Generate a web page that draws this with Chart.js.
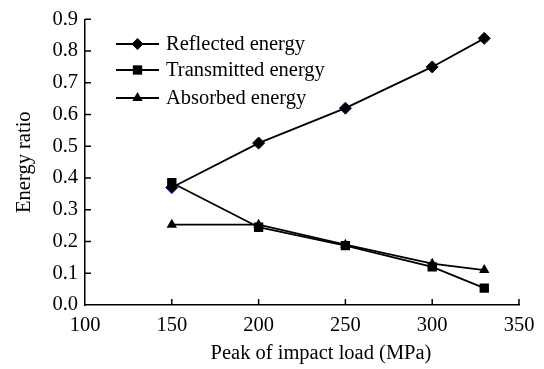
<!DOCTYPE html>
<html>
<head>
<meta charset="utf-8">
<script src="https://cdn.jsdelivr.net/npm/chart.js"></script>
<style>
  html, body { margin: 0; padding: 0; background: #fff; }
</style>
</head>
<body>
<canvas id="energyChart" width="544" height="369"></canvas>
<script>
const LOADS = [150, 200, 250, 300, 330];
const REFLECTED = [0.37, 0.51, 0.62, 0.75, 0.84];
const TRANSMITTED = [0.385, 0.245, 0.187, 0.12, 0.053];
const ABSORBED = [0.253, 0.253, 0.19, 0.13, 0.11];

const X_TICKS = [100, 150, 200, 250, 300, 350];
const Y_TICKS = [0.0, 0.1, 0.2, 0.3, 0.4, 0.5, 0.6, 0.7, 0.8, 0.9];

const SERIES_NAMES = ["Reflected energy", "Transmitted energy", "Absorbed energy"];
const X_TITLE = "Peak of impact load (MPa)";
const Y_TITLE = "Energy ratio";

const FONT = "'Liberation Serif', 'Times New Roman', serif";
const FONT_SIZE = 20.5;

function toPoints(values) {
  return values.map(function (v, i) {
    return { x: LOADS[i], y: v };
  });
}

const MARKERS = [
  { style: "rectRot", radius: 6 },
  { style: "rect", radius: 6.6 },
  { style: "triangle", radius: 6 },
];

// inward ticks, custom legend and the offset x title
const decorPlugin = {
  id: "decor",
  afterDraw: function (chart) {
    const ctx = chart.ctx;
    const area = chart.chartArea;
    const xs = chart.scales.x;
    const ys = chart.scales.y;

    ctx.save();
    ctx.strokeStyle = "#000";
    ctx.lineWidth = 1.5;
    ctx.beginPath();
    X_TICKS.forEach(function (t) {
      if (t === X_TICKS[0]) return;
      const px = xs.getPixelForValue(t);
      ctx.moveTo(px, area.bottom);
      ctx.lineTo(px, area.bottom - 6);
    });
    Y_TICKS.forEach(function (t) {
      if (t === Y_TICKS[0]) return;
      const py = ys.getPixelForValue(t);
      ctx.moveTo(area.left, py);
      ctx.lineTo(area.left + 6, py);
    });
    ctx.stroke();

    // legend
    const rows = [44, 70, 98];
    ctx.font = FONT_SIZE + "px " + FONT;
    ctx.textBaseline = "middle";
    ctx.textAlign = "left";
    SERIES_NAMES.forEach(function (name, i) {
      const y = rows[i];
      const lx = area.left + 31;
      ctx.strokeStyle = "#000";
      ctx.lineWidth = 1.8;
      ctx.beginPath();
      ctx.moveTo(lx, y);
      ctx.lineTo(lx + 43, y);
      ctx.stroke();
      ctx.fillStyle = "#000";
      Chart.helpers.drawPoint(ctx, {
        pointStyle: MARKERS[i].style,
        radius: MARKERS[i].radius,
        rotation: 0,
        borderWidth: 0,
      }, lx + 21.5, y);
      ctx.fillStyle = "#000";
      ctx.fillText(name, lx + 50, y + 1);
    });

    // x axis title
    ctx.textAlign = "center";
    ctx.textBaseline = "alphabetic";
    ctx.fillText(X_TITLE, 321, 359);
    ctx.restore();
  },
};

new Chart(document.getElementById("energyChart"), {
  type: "line",
  data: {
    datasets: [
      {
        label: SERIES_NAMES[0],
        data: toPoints(REFLECTED),
        borderColor: "#000",
        borderWidth: 1.8,
        pointStyle: MARKERS[0].style,
        pointRadius: MARKERS[0].radius,
        pointBackgroundColor: "#000",
        pointBorderColor: ["#000080", "#000", "#000080", "#000", "#000"],
        pointBorderWidth: 1,
        tension: 0,
        order: 2,
      },
      {
        label: SERIES_NAMES[1],
        data: toPoints(TRANSMITTED),
        borderColor: "#000",
        borderWidth: 1.8,
        pointStyle: MARKERS[1].style,
        pointRadius: MARKERS[1].radius,
        pointBackgroundColor: "#000",
        pointBorderColor: "#000",
        pointBorderWidth: 0,
        tension: 0,
        order: 0,
      },
      {
        label: SERIES_NAMES[2],
        data: toPoints(ABSORBED),
        borderColor: "#000",
        borderWidth: 1.8,
        pointStyle: MARKERS[2].style,
        pointRadius: MARKERS[2].radius,
        pointBackgroundColor: "#000",
        pointBorderColor: "#000",
        pointBorderWidth: 0,
        tension: 0,
        order: 1,
      },
    ],
  },
  options: {
    responsive: false,
    animation: false,
    layout: { padding: { left: 0, top: 14, right: 25, bottom: 0 } },
    plugins: {
      legend: { display: false },
      tooltip: { enabled: false },
    },
    scales: {
      x: {
        type: "linear",
        min: 100,
        max: 350,
        afterBuildTicks: function (scale) {
          scale.ticks = X_TICKS.map(function (v) { return { value: v }; });
        },
        afterFit: function (scale) { scale.height = 64; },
        ticks: {
          color: "#000",
          padding: 8,
          maxRotation: 0,
          font: { family: FONT, size: FONT_SIZE },
        },
        grid: { drawOnChartArea: false, drawTicks: false, color: "transparent" },
        border: { display: true, color: "#000", width: 1.5 },
      },
      y: {
        min: 0,
        max: 0.9,
        afterBuildTicks: function (scale) {
          scale.ticks = Y_TICKS.map(function (v) { return { value: v }; });
        },
        afterFit: function (scale) { scale.width = 85; },
        ticks: {
          color: "#000",
          padding: 7,
          font: { family: FONT, size: FONT_SIZE },
          callback: function (v) { return Number(v).toFixed(1); },
        },
        title: {
          display: true,
          text: Y_TITLE,
          color: "#000",
          padding: { top: 12, bottom: 0 },
          font: { family: FONT, size: FONT_SIZE },
        },
        grid: { drawOnChartArea: false, drawTicks: false, color: "transparent" },
        border: { display: true, color: "#000", width: 1.5 },
      },
    },
  },
  plugins: [decorPlugin],
});
</script>
</body>
</html>
